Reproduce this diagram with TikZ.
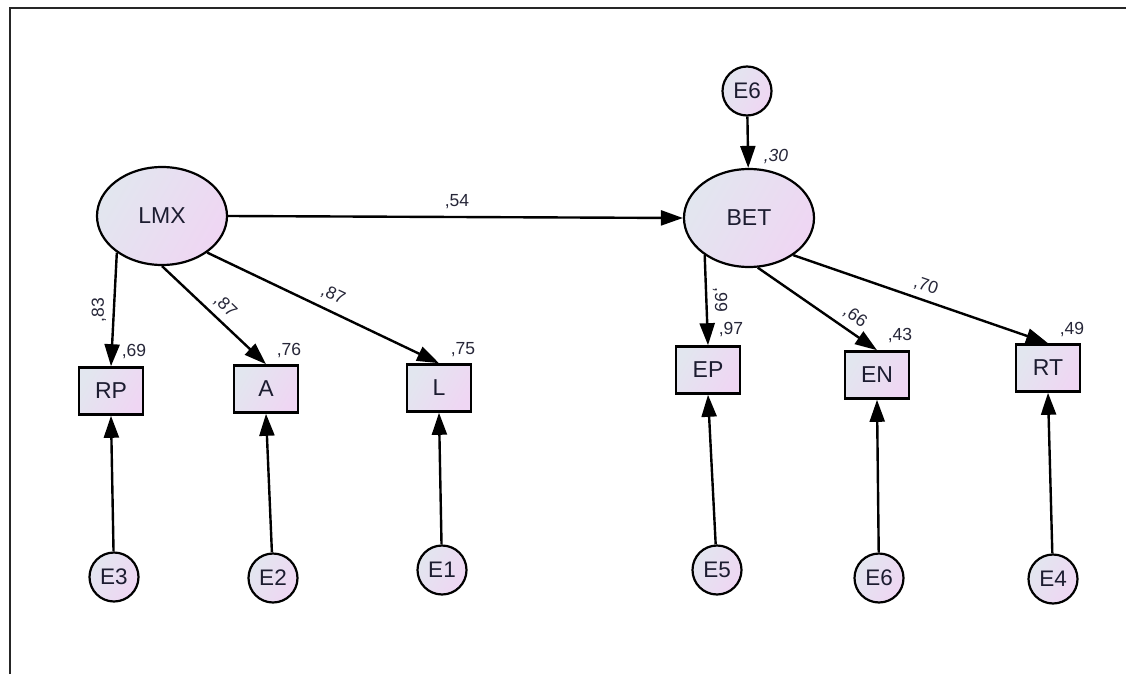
\documentclass[tikz,border=0pt]{standalone}
\usepackage{fontspec}
\setmainfont{Liberation Sans}
\usetikzlibrary{arrows.meta,shapes.geometric}
\definecolor{gradA}{HTML}{E2E6EF}
\definecolor{gradB}{HTML}{EFD6F3}
\definecolor{txt}{HTML}{1C1C30}
\definecolor{lab}{HTML}{262638}
\tikzset{
  fillgrad/.style={left color=gradA, right color=gradB, shading angle=60},
  latent/.style={ellipse, draw=black, line width=2.2pt, fillgrad, minimum width=130pt, minimum height=98pt, inner sep=0pt, text=txt, font=\fontsize{23}{27}\selectfont},
  observed/.style={rectangle, draw=black, line width=2.6pt, fillgrad, minimum width=64pt, minimum height=47pt, inner sep=0pt, text=txt, font=\fontsize{23}{27}\selectfont},
  errnode/.style={circle, draw=black, line width=2.2pt, fillgrad, minimum size=49pt, inner sep=0pt, text=txt, font=\fontsize{22.5}{26}\selectfont},
  conn/.style={line width=2.4pt, -{Triangle[length=22pt,width=15pt]}},
  coef/.style={text=lab, font=\fontsize{17.5}{20}\selectfont, inner sep=0pt},
}
\begin{document}
\begin{tikzpicture}[x=1pt,y=-1pt]
\useasboundingbox (0,0) rectangle (1126,674);
\fill[white] (0,0) rectangle (1126,674);
\draw[line width=2.2pt, black!85] (10,674) -- (10,8) -- (1126,8);

% latent variables
\node[latent] (LMX) at (162,216) {LMX};
\node[latent] (BET) at (749,218) {BET};
\node[errnode] (E6t) at (747,91) {E6};

% observed
\node[observed] (RP) at (111,391) {RP};
\node[observed] (A) at (266,389) {A};
\node[observed] (L) at (439,388) {L};
\node[observed] (EP) at (708,370) {EP};
\node[observed] (EN) at (877,375) {EN};
\node[observed] (RT) at (1048,368) {RT};

% errors
\node[errnode] (E3) at (114,577) {E3};
\node[errnode] (E2) at (273,578) {E2};
\node[errnode] (E1) at (442,570) {E1};
\node[errnode] (E5) at (717,570) {E5};
\node[errnode] (E6b) at (879,578) {E6};
\node[errnode] (E4) at (1053,579) {E4};

% connectors
\draw[conn] (LMX.east) -- (BET.west);
\draw[conn] (E6t) -- (BET);
\draw[conn] (LMX.219) -- (RP.north);
\draw[conn] (LMX.south) -- (A.north);
\draw[conn] (LMX.-39) -- (L.north);
\draw[conn] (BET.220) -- (EP.north);
\draw[conn] (BET.-80) -- (EN.north);
\draw[conn] (BET.-40) -- (RT.north);
\draw[conn] (E3) -- (RP.south);
\draw[conn] (E2) -- (A.south);
\draw[conn] (E1) -- (L.south);
\draw[conn] (E5) -- (EP.south);
\draw[conn] (E6b) -- (EN.south);
\draw[conn] (E4) -- (RT.south);

% coefficients
\node[coef] (c54) at (457,202) {,54};
\node[coef] (c30) at (776,157) {\itshape ,30};
\node[coef, rotate=90] (c83) at (99,310) {,83};
\node[coef, rotate=-44] (c87a) at (225,306) {,87};
\node[coef, rotate=-25] (c87b) at (333,295) {,87};
\node[coef] (c69) at (134,352) {,69};
\node[coef] (c76) at (289,351) {,76};
\node[coef] (c75) at (463,350) {,75};
\node[coef, rotate=-90] (c99) at (720,300) {,99};
\node[coef] (c97) at (731,330) {,97};
\node[coef, rotate=-36] (c66) at (855,317) {,66};
\node[coef] (c43) at (900,336) {,43};
\node[coef, rotate=-19] (c70) at (926,286) {,70};
\node[coef] (c49) at (1072,330) {,49};
\end{tikzpicture}
\end{document}
